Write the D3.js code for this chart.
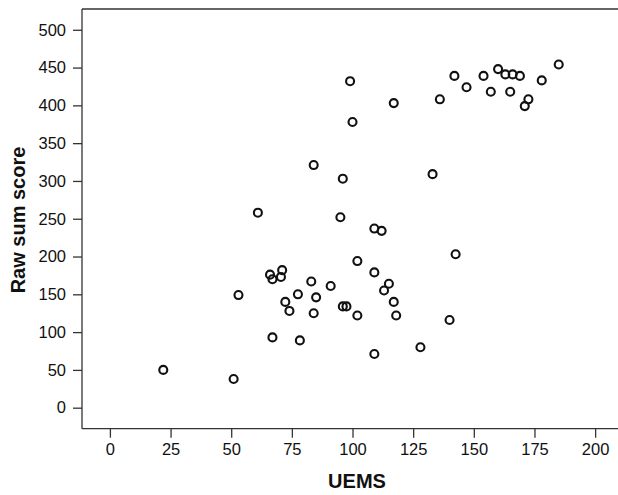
<!DOCTYPE html>
<html>
<head>
<meta charset="utf-8">
<script src="https://cdn.jsdelivr.net/npm/d3@7"></script>
<style>
  html, body { margin: 0; padding: 0; background: #fff; }
  svg { display: block; }
  text { font-family: "Liberation Sans", Arial, Helvetica, sans-serif; fill: #111; }
</style>
</head>
<body>
<svg id="chart" width="618" height="495"></svg>
<script>
// Data
const uems = [22, 51, 53, 61, 66, 67, 67, 71, 70.5, 72.3, 74, 77.5, 78.3, 83, 84, 84, 85, 91,
  96, 95, 96, 97.5, 99, 100, 102, 102, 109, 112, 109, 109, 113, 115, 117, 118, 117, 128,
  133, 136, 140, 142.5, 142, 147, 154, 157, 160, 163, 166, 165, 169, 171, 172.5, 178, 185];
const rawSum = [50, 38, 149, 258, 176, 170, 93, 182, 173, 140, 128, 150, 89, 167, 125, 321, 146, 161,
  303, 252, 134, 134, 432, 378, 194, 122, 237, 234, 179, 71, 155, 164, 140, 122, 403, 80,
  309, 408, 116, 203, 439, 424, 439, 418, 448, 441, 441, 418, 439, 399, 408, 433, 454];
const xTicks = [0, 25, 50, 75, 100, 125, 150, 175, 200];
const yTicks = [0, 50, 100, 150, 200, 250, 300, 350, 400, 450, 500];
const xTitle = "UEMS";
const yTitle = "Raw sum score";

(function () {
  const svg = d3.select("#chart");
  const mLeft = 82, mRight = 632, mTop = 9, mBottom = 428.7;

  const x = d3.scaleLinear().domain([-11.5, 215.2]).range([mLeft, mRight]);
  const y = d3.scaleLinear().domain([-27.8, 527.5]).range([mBottom, mTop]);

  const axisColor = "#333";

  // top frame line
  svg.append("line").attr("x1", mLeft).attr("x2", 620).attr("y1", mTop).attr("y2", mTop)
    .attr("stroke", axisColor).attr("stroke-width", 1.3);

  const xAxis = svg.append("g").attr("transform", `translate(0,${mBottom})`)
    .call(d3.axisBottom(x).tickValues(xTicks).tickSize(9).tickPadding(6).tickSizeOuter(0));
  const yAxis = svg.append("g").attr("transform", `translate(${mLeft},0)`)
    .call(d3.axisLeft(y).tickValues(yTicks).tickSize(9).tickPadding(7).tickSizeOuter(0));

  [xAxis, yAxis].forEach(g => {
    g.select(".domain").attr("stroke", axisColor).attr("stroke-width", 1.3);
    g.selectAll(".tick line").attr("stroke", axisColor).attr("stroke-width", 1.3);
    g.selectAll(".tick text").attr("font-size", 16.5)
      .attr("font-family", '"Liberation Sans", Arial, sans-serif').attr("fill", "#111");
  });
  xAxis.select(".domain").attr("d", `M${mLeft},0H620`);
  yAxis.select(".domain").attr("d", `M0,${mTop}V${mBottom}`);

  // axis titles
  svg.append("text").attr("x", 357).attr("y", 488)
    .attr("text-anchor", "middle").attr("font-size", 20).attr("font-weight", "bold")
    .text(xTitle);
  svg.append("text").attr("transform", "translate(24.5,220) rotate(-90)")
    .attr("text-anchor", "middle").attr("font-size", 20).attr("font-weight", "bold")
    .text(yTitle);

  // points
  const pts = uems.map((u, i) => ({ u, r: rawSum[i] }));
  svg.append("g").selectAll("circle").data(pts).join("circle")
    .attr("cx", d => x(d.u)).attr("cy", d => y(d.r)).attr("r", 4)
    .attr("fill", "none").attr("stroke", "#111").attr("stroke-width", 2.1);
})();
</script>
</body>
</html>
